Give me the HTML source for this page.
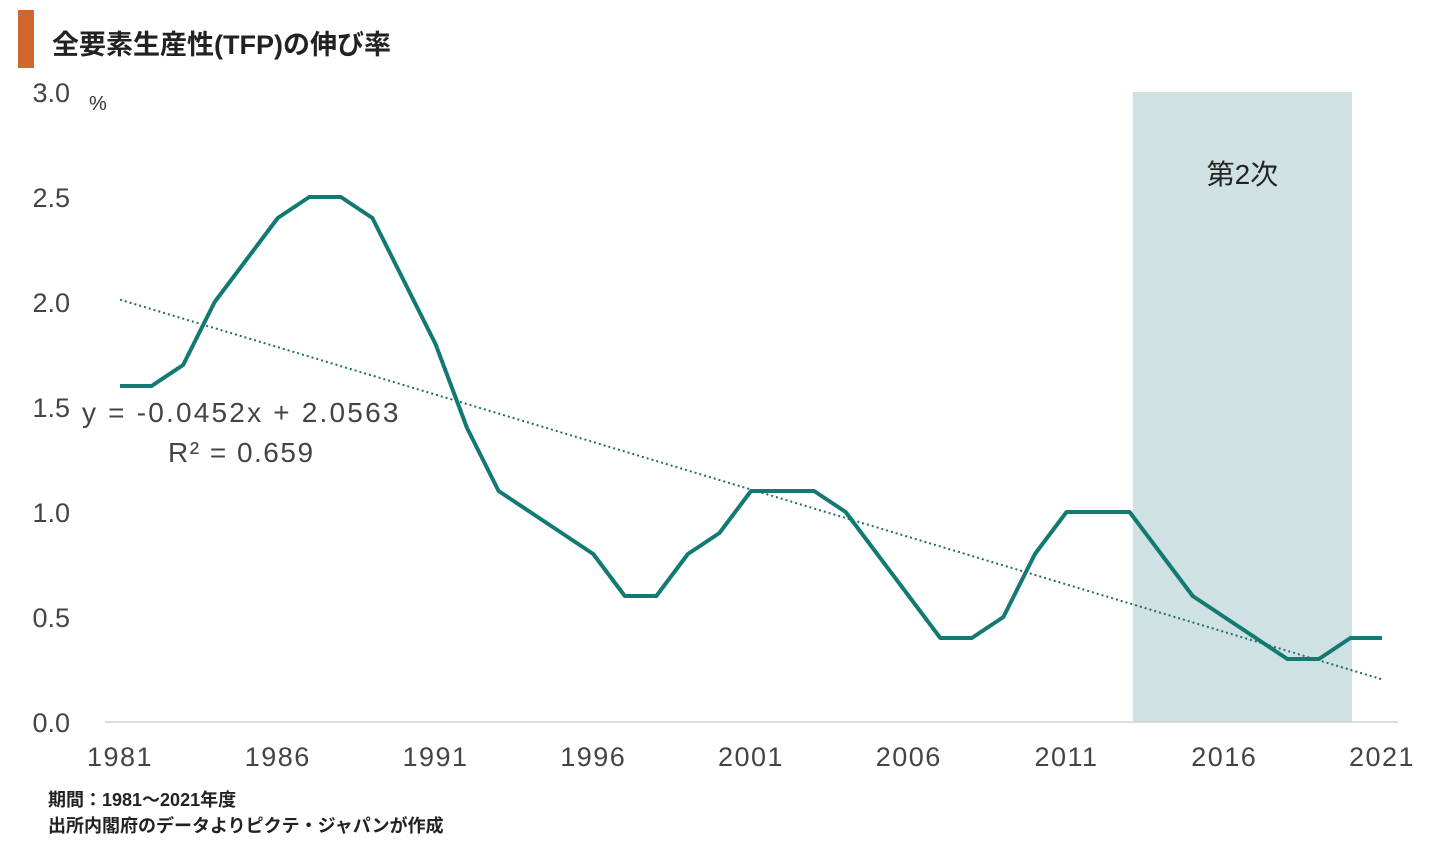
<!DOCTYPE html>
<html><head><meta charset="utf-8">
<style>
body{margin:0;background:#fff;width:1438px;height:849px;overflow:hidden;font-family:"Liberation Sans","Noto Sans CJK JP",sans-serif;}
svg text{font-family:"Liberation Sans","Noto Sans CJK JP",sans-serif;}
</style></head>
<body>
<svg id="chart" width="1438" height="849" viewBox="0 0 1438 849">
  <rect x="18" y="10" width="16" height="58" fill="#d2672e"/>
  <text x="52" y="54" font-size="27" font-weight="bold" fill="#222">全要素生産性(TFP)の伸び率</text>
  <text x="89" y="110" font-size="20" fill="#333">%</text>
  <g id="band"></g>
  <g id="yticks"></g>
  <g id="xticks"></g>
  <line x1="105" y1="722" x2="1398" y2="722" stroke="#d0d0d0" stroke-width="1.5"/>
  <g id="trend"></g>
  <g id="series"></g>
  <text x="82" y="422" font-size="28" fill="#444" letter-spacing="2.2">y = -0.0452x + 2.0563</text>
  <text x="168" y="462" font-size="28" fill="#444" letter-spacing="1.5">R² = 0.659</text>
  <text x="48" y="806" font-size="18" fill="#222" font-weight="bold">期間：1981～2021年度</text>
  <text x="48" y="832" font-size="18" fill="#222" font-weight="bold">出所内閣府のデータよりピクテ・ジャパンが作成</text>
</svg>
<script>
const years = [1981,1982,1983,1984,1985,1986,1987,1988,1989,1990,1991,1992,1993,1994,1995,1996,1997,1998,1999,2000,2001,2002,2003,2004,2005,2006,2007,2008,2009,2010,2011,2012,2013,2014,2015,2016,2017,2018,2019,2020,2021];
const tfpValues = [1.6,1.6,1.7,2.0,2.2,2.4,2.5,2.5,2.4,2.1,1.8,1.4,1.1,1.0,0.9,0.8,0.6,0.6,0.8,0.9,1.1,1.1,1.1,1.0,0.8,0.6,0.4,0.4,0.5,0.8,1.0,1.0,1.0,0.8,0.6,0.5,0.4,0.3,0.3,0.4,0.4];
const yTickValues = [0,0.5,1.0,1.5,2.0,2.5,3.0];
const yTickLabels = ["0.0","0.5","1.0","1.5","2.0","2.5","3.0"];
const xTickYears = [1981,1986,1991,1996,2001,2006,2011,2016,2021];
const trendSlope = -0.0452;
const trendIntercept = 2.0563;
const bandStartYear = 2013.1;
const bandEndYear = 2020.05;
const bandLabel = "第2次";

const NS="http://www.w3.org/2000/svg";
function xs(yr){return 120+(yr-1981)*(1262/40);}
function ys(v){return 722-v*210;}
function mk(tag,attrs,parent,text){const e=document.createElementNS(NS,tag);for(const k in attrs)e.setAttribute(k,attrs[k]);if(text!==undefined)e.textContent=text;document.getElementById(parent).appendChild(e);return e;}

const b=mk('rect',{x:xs(bandStartYear),y:ys(3.0),width:xs(bandEndYear)-xs(bandStartYear),height:ys(0)-ys(3.0),fill:'#cfe1e2'},'band');


const bl=mk('text',{x:(xs(bandStartYear)+xs(bandEndYear))/2,y:184,'font-size':28,'text-anchor':'middle',fill:'#222'},'band',bandLabel);



yTickValues.forEach((v,i)=>{
  const t=mk('text',{x:70,y:ys(v)+10,'font-size':27,'text-anchor':'end',fill:'#444'},'yticks',yTickLabels[i]);
  
  
});
xTickYears.forEach(yr=>{
  const t=mk('text',{x:xs(yr),y:766,'font-size':27,'text-anchor':'middle',fill:'#444','letter-spacing':1.5},'xticks',String(yr));
  
  
});

const n=years.length;
const tr=mk('line',{x1:xs(years[0]),y1:ys(trendSlope*1+trendIntercept),x2:xs(years[n-1]),y2:ys(trendSlope*n+trendIntercept),stroke:'#1f6f66','stroke-width':2,'stroke-dasharray':'2 3'},'trend');



const pts=years.map((yr,i)=>xs(yr)+','+ys(tfpValues[i])).join(' ');
const pl=mk('polyline',{points:pts,fill:'none',stroke:'#127a72','stroke-width':4,'stroke-linejoin':'round'},'series');


</script>
</body></html>
